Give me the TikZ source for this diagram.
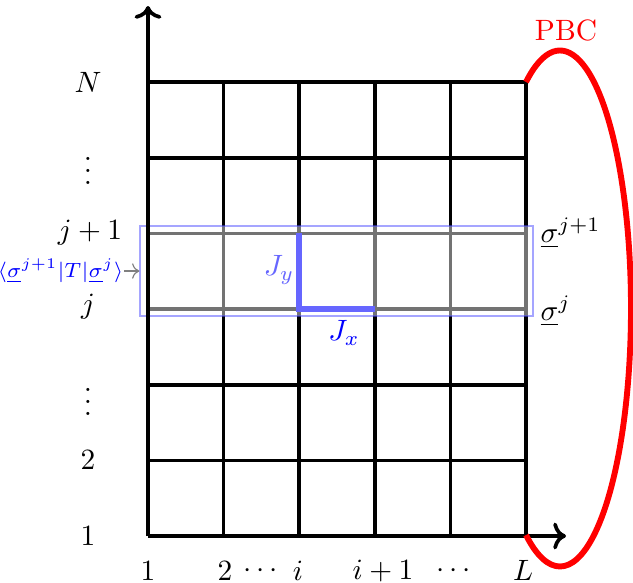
\documentclass[tikz,border=0pt]{standalone}
\usetikzlibrary{arrows.meta}
\begin{document}
\begin{tikzpicture}[x=0.34pt,y=-0.34pt,
  gridline/.style={line width=1.25pt,black},
  axisline/.style={line width=1.25pt,black,->},
  lab/.style={inner sep=0pt,anchor=center},
  coupling/.style={line width=1.9pt,blue!60},
  pbc/.style={line width=2pt,red}]
\useasboundingbox (0,0) rectangle (633,582);
% grid
\foreach \i in {0,...,5} {
  \draw[gridline] ({148+75.6*\i},82) -- ({148+75.6*\i},536);
}
\foreach \k in {0,...,6} {
  \draw[gridline] (148,{82+75.67*\k}) -- (526,{82+75.67*\k});
}
% transfer-matrix box
\node[draw=blue!70,opacity=0.5,fill=white,fill opacity=0.45,line width=0.4pt,
  minimum width=393*0.34pt,minimum height=90*0.34pt,inner sep=0pt] (box) at (336.5,271) {};
% axes
\coordinate (O) at (148,536);
\coordinate (ytop) at (148,6);
\coordinate (xend) at (566,536);
\draw[axisline] (O) -- (ytop);
\draw[axisline] (O) -- (xend);
% couplings
\coordinate (a) at (299.2,233.3);
\coordinate (b) at (299.2,309);
\coordinate (c) at (374.8,309);
\draw[coupling] (a) -- (b) -- (c);
\node[lab,text=blue!60] (Jy) at (279,270) {$J_y$};
\node[lab,text=blue] (Jx) at (344,333) {$J_x$};
% row labels
\node[lab] (rN) at (88,82) {$N$};
\node[lab] (rd1) at (88,162) {$\vdots$};
\node[lab] (rj1) at (90,233) {$j+1$};
\node[lab] (rj) at (88,307) {$j$};
\node[lab] (rd2) at (88,393) {$\vdots$};
\node[lab] (r2) at (88,460) {$2$};
\node[lab] (r1) at (88,536) {$1$};
% column labels
\node[lab] (c1) at (148,571) {$1$};
\node[lab] (c2) at (225,571) {$2$};
\node[lab] (cd1) at (261,571) {$\cdots$};
\node[lab] (ci) at (298,571) {$i$};
\node[lab] (ci1) at (383,571) {$i+1$};
\node[lab] (cd2) at (454,571) {$\cdots$};
\node[lab] (cL) at (523,570) {$L$};
% transfer matrix label
\node[lab,text=blue,font=\scriptsize,anchor=east] (T) at (124,271) {$\langle\underline{\sigma}^{j+1}|T|\underline{\sigma}^{j}\rangle$};
\draw[->,gray,line width=0.4pt] (T.east) -- (box.west);
% right labels
\node[lab,anchor=west] (sj1) at (540,233) {$\underline{\sigma}^{j+1}$};
\node[lab,anchor=west] (sj) at (540,311) {$\underline{\sigma}^{j}$};
% PBC
\draw[pbc] (526,82) arc[start angle=118.6,end angle=-118.6,x radius=71,y radius=-258];
\node[lab,text=red] (pbcl) at (566,30) {PBC};
\end{tikzpicture}
\end{document}
